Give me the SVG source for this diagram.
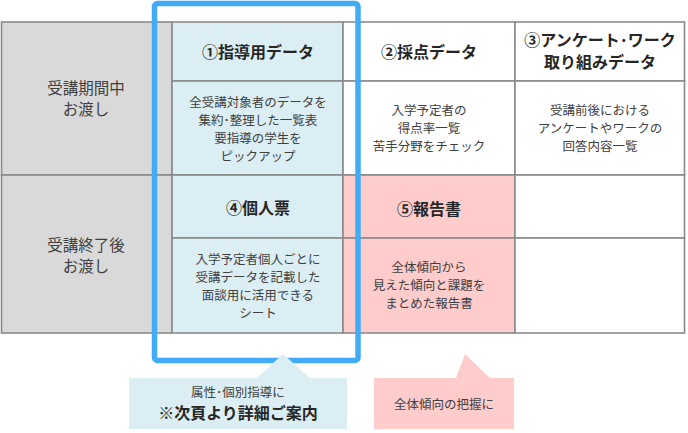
<svg xmlns="http://www.w3.org/2000/svg" width="688" height="433" viewBox="0 0 688 433">
<style>
  .cell { stroke: #8a8a8a; stroke-width: 1.6; }
  .gray { fill: #d9d9d9; }
  .blue { fill: #dbeef4; }
  .pink { fill: #ffcccc; }
  .white { fill: #ffffff; }
  text { font-family: "Noto Sans CJK JP", "Noto Sans", sans-serif; fill: #404040; text-anchor: middle; }
  .hd { font-size: 16px; font-weight: bold; fill: #262626; }
  .bd { font-size: 12.5px; }
  .side { font-size: 15.5px; }
  .frame { fill: none; stroke: #41acf5; stroke-width: 5.5; }
</style>
<rect x="0" y="0" width="688" height="433" fill="#ffffff"/>

<g id="side-row1">
  <rect class="cell gray" x="1.5" y="22" width="170.5" height="153"/>
  <text class="side" x="86" y="94">受講期間中</text>
  <text class="side" x="86" y="115">お渡し</text>
</g>
<g id="side-row2">
  <rect class="cell gray" x="1.5" y="175" width="170.5" height="158"/>
  <text class="side" x="86" y="251">受講終了後</text>
  <text class="side" x="86" y="272">お渡し</text>
</g>

<g id="node1">
  <rect class="cell blue" x="172" y="22" width="171" height="59"/>
  <text class="hd" x="258" y="58">①指導用データ</text>
  <rect class="cell blue" x="172" y="81" width="171" height="94"/>
  <text class="bd" x="258" y="107">全受講対象者のデータを</text>
  <text class="bd" x="258" y="125">集約･整理した一覧表</text>
  <text class="bd" x="258" y="143">要指導の学生を</text>
  <text class="bd" x="258" y="161">ピックアップ</text>
</g>

<g id="node2">
  <rect class="cell white" x="343" y="22" width="172" height="59"/>
  <text class="hd" x="429" y="58">②採点データ</text>
  <rect class="cell white" x="343" y="81" width="172" height="94"/>
  <text class="bd" x="429" y="115">入学予定者の</text>
  <text class="bd" x="429" y="133">得点率一覧</text>
  <text class="bd" x="429" y="151">苦手分野をチェック</text>
</g>

<g id="node3">
  <rect class="cell white" x="515" y="22" width="169.5" height="59"/>
  <text class="hd" x="600" y="46">③アンケート･ワーク</text>
  <text class="hd" x="600" y="68">取り組みデータ</text>
  <rect class="cell white" x="515" y="81" width="169.5" height="94"/>
  <text class="bd" x="600" y="115">受講前後における</text>
  <text class="bd" x="600" y="133">アンケートやワークの</text>
  <text class="bd" x="600" y="151">回答内容一覧</text>
</g>

<g id="node4">
  <rect class="cell blue" x="172" y="175" width="171" height="63"/>
  <text class="hd" x="258" y="214">④個人票</text>
  <rect class="cell blue" x="172" y="238" width="171" height="95"/>
  <text class="bd" x="258" y="264">入学予定者個人ごとに</text>
  <text class="bd" x="258" y="282">受講データを記載した</text>
  <text class="bd" x="258" y="300">面談用に活用できる</text>
  <text class="bd" x="258" y="318">シート</text>
</g>

<g id="node5">
  <rect class="cell pink" x="343" y="175" width="172" height="63"/>
  <text class="hd" x="429" y="215">⑤報告書</text>
  <rect class="cell pink" x="343" y="238" width="172" height="95"/>
  <text class="bd" x="429" y="272">全体傾向から</text>
  <text class="bd" x="429" y="290">見えた傾向と課題を</text>
  <text class="bd" x="429" y="308">まとめた報告書</text>
</g>

<g id="empty-cell">
  <rect class="cell white" x="515" y="175" width="169.5" height="63"/>
  <rect class="cell white" x="515" y="238" width="169.5" height="95"/>
</g>

<g id="highlight-frame">
  <rect class="frame" x="154.5" y="3.5" width="203.5" height="357" rx="3"/>
</g>

<g id="callout-blue">
  <path d="M129,378 L257,378 L283,354 L310,378 L347,378 L347,429 L129,429 Z" fill="#dbeef4"/>
  <text class="bd" x="238" y="397">属性･個別指導に</text>
  <text class="hd" x="238" y="419">※次頁より詳細ご案内</text>
</g>

<g id="callout-pink">
  <path d="M374,378 L456,378 L465,354 L490,378 L514,378 L514,429 L374,429 Z" fill="#ffcccc"/>
  <text class="bd" x="444" y="409">全体傾向の把握に</text>
</g>
</svg>
